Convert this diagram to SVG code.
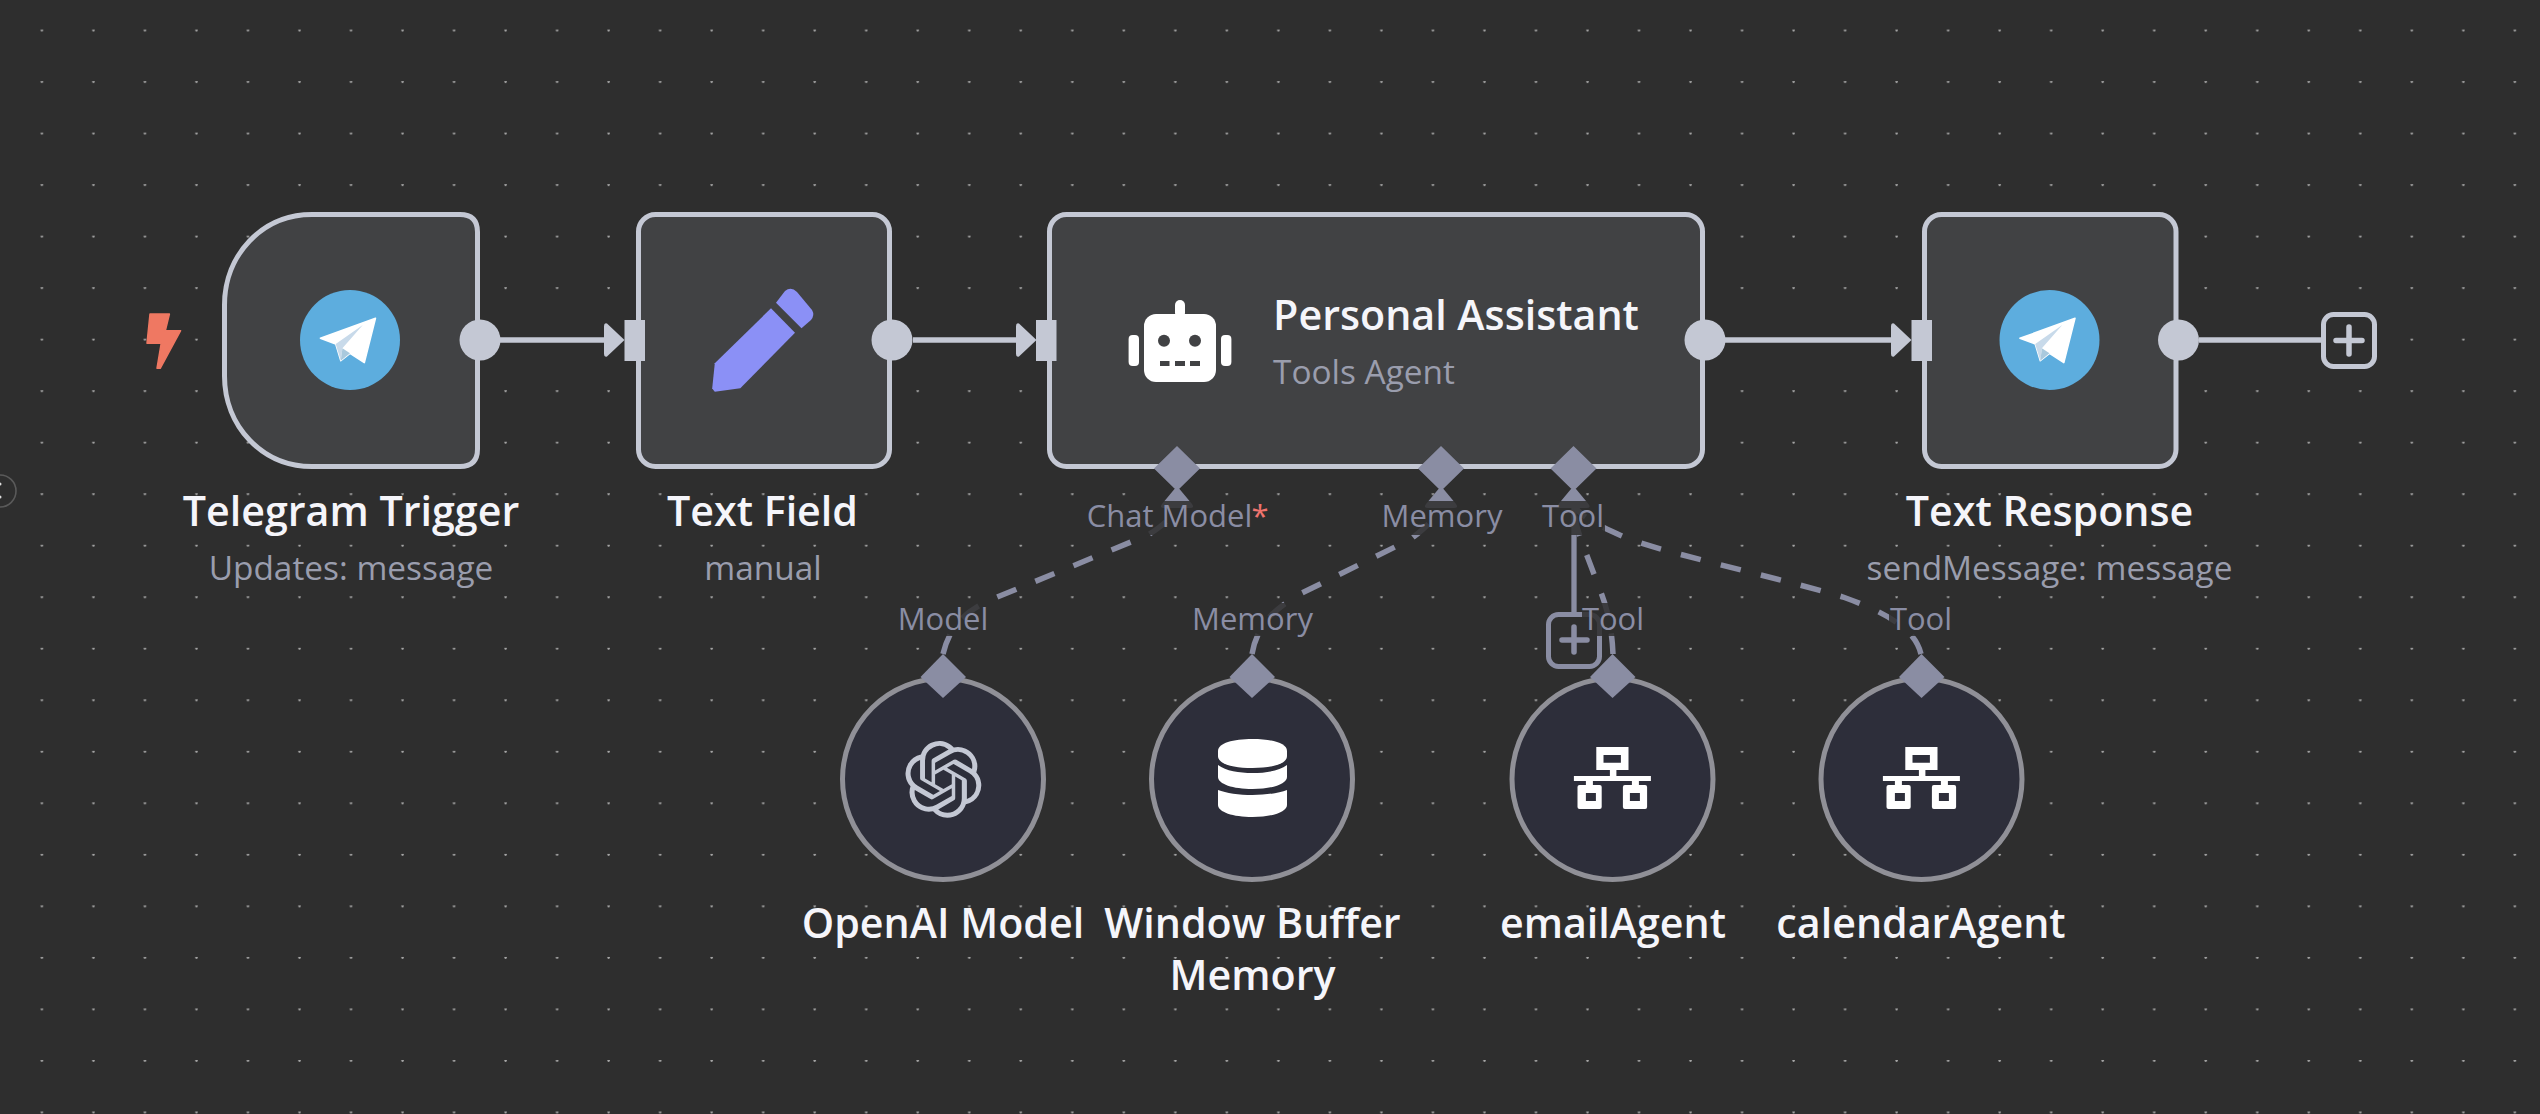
<svg xmlns="http://www.w3.org/2000/svg" xmlns:xlink="http://www.w3.org/1999/xlink" width="2540" height="1114" viewBox="0 0 2540 1114">
<style>
text{font-family:"Open Sans","Noto Sans","Liberation Sans",sans-serif;text-anchor:middle}
.title{font-size:41.200px;font-weight:600;fill:#f5f5fa}
.sub{font-size:33.400px;font-weight:400;fill:#9a9dad}
.lab{font-size:31px;font-weight:400;fill:#8a8da4}
.card{fill:#414244;stroke:#c4c8d4;stroke-width:5}
.sc{fill:#2d2e3a;stroke:#909097;stroke-width:5}
.main{fill:none;stroke:#c4c8d4;stroke-width:5.300}
.dash{fill:none;stroke:#8a8da3;stroke-width:5.500;stroke-dasharray:20.600 20.600}
.solid{fill:none;stroke:#8a8da3;stroke-width:5.300}
.port{fill:#c4c8d4}
.dia{fill:#8a8da3}
.lbg{fill:#2e2e2e;fill-opacity:.85}
</style>
<defs>
<pattern id="dots" x="41.300" y="29.600" width="51.520" height="51.520" patternUnits="userSpaceOnUse">
<circle cx="0.600" cy="0.600" r="1.300" fill="#a8a8a8"/>
<circle cx="52.120" cy="0.600" r="1.300" fill="#a8a8a8"/>
</pattern>
<g id="tg">
<circle r="50" fill="#5dadde"/>
<path d="M25.500-21.700-29.600-1.700-14.300 4-9.200 20.700 0 13.300 14.300 22.700Z" fill="#fff" stroke="#fff" stroke-width="1.500" stroke-linejoin="round"/>
<path d="M12.800-15-14.300 4-9.200 20.700-7.600 8.300Z" fill="#c8daea"/>
<path d="M-9.200 20.700 0 13.300-7.600 8.300Z" fill="#a9c9dd"/>
</g>
<path id="head" d="M0-16.500 17.500 0 0 16.500Q-3 17.500-3 14V-14Q-3-17.500 0-16.500Z" class="port"/>
<g id="net">
<path d="M-16.200 0H16V23H-16.200ZM-9 8V15.700H8.400V8Z" fill="#fff" fill-rule="evenodd"/>
<path d="M-2.600 22H3.900V30H-2.600ZM-38.600 29H38.400V34H-38.600ZM-26.600 33H-19.600V40H-26.600ZM19.400 33H26.400V40H19.400Z" fill="#fff"/>
<rect x="-35" y="38" width="24.200" height="24" rx="2" fill="#fff"/>
<rect x="10.400" y="38" width="24.200" height="24" rx="2" fill="#fff"/>
<rect x="-26.600" y="46" width="10" height="8" fill="#2d2e3a"/>
<rect x="17.400" y="46" width="10" height="8" fill="#2d2e3a"/>
</g>
</defs>
<rect width="2540" height="1114" fill="#2e2e2e"/>
<rect width="2540" height="1114" fill="url(#dots)"/>
<g id="canvas-control">
<circle cx="0" cy="491" r="16" fill="none" stroke="#5a5a5a" stroke-width="1.600"/>
<circle cx="0" cy="484" r="1.500" fill="#ddd"/>
<circle cx="0" cy="497" r="1.500" fill="#ddd"/>
</g>
<g id="connectors">
<path class="main" d="M500 340H606"/>
<use xlink:href="#head" x="607" y="340"/>
<path class="main" d="M913 340H1017"/>
<use xlink:href="#head" x="1019" y="340"/>
<path class="main" d="M1725 340H1892"/>
<use xlink:href="#head" x="1894" y="340"/>
<path class="main" d="M2199 340H2321"/>
<path class="dash" d="M943 654C950 625 965 612 990 600L1148 535C1162 526 1174 518 1177 500"/>
<path class="dash" d="M1252 654C1258 620 1280 606 1300 594L1411 539C1430 524 1438 516 1441 500"/>
<path class="solid" d="M1574 505V612"/>
<path class="dash" d="M1613 654C1612 630 1608 610 1600 590L1581 540C1578 530 1574 520 1574 505"/>
<path class="dash" d="M1921 654C1915 630 1890 614 1843 597C1780 578 1660 552 1624 537C1595 524 1580 516 1574 505"/>
</g>
<g id="add-right">
<rect x="2323.500" y="314.500" width="51" height="52" rx="10" fill="#2e2e2e" stroke="#c4c8d4" stroke-width="5"/>
<path d="M2336 340.500H2362M2349 327V354" stroke="#c4c8d4" stroke-width="5.500" stroke-linecap="round"/>
</g>
<g id="add-tool">
<rect x="1548.500" y="614.500" width="51" height="52" rx="10" fill="#2e2e2e" stroke="#8a8da3" stroke-width="5"/>
<path d="M1562 640H1587M1574 627V652" stroke="#8a8da3" stroke-width="5.500" stroke-linecap="round"/>
</g>
<g id="telegram-trigger">
<path class="card" d="M312 214.500H460Q477.500 214.500 477.500 232V449Q477.500 466.500 460 466.500H312C262 466.500 224.500 426 224.500 376V305C224.500 255 262 214.500 312 214.500Z"/>
<path d="M150 314H169.400L165.300 330.700H180.600L160.200 368.300H157L161.200 343.300H147Z" fill="#ef7862" stroke="#ef7862" stroke-width="1.500" stroke-linejoin="round"/>
<use xlink:href="#tg" x="350" y="340"/>
<circle class="port" cx="480" cy="340" r="20.500"/>
<text class="title" x="351" y="526">Telegram Trigger</text>
<text class="sub" x="351" y="580">Updates: message</text>
</g>
<g id="text-field">
<rect class="card" x="638.500" y="214.500" width="251" height="252" rx="17"/>
<rect class="port" x="624.500" y="320" width="20.500" height="41"/>
<path d="M771 308.300 795 332.700 740.300 388.300 714.800 391.700 712.200 388.500 714.800 363.300Z" fill="#8b90f6"/>
<path d="M776 302.700 785 291Q791 286 797 292L812 310Q815 315 811 320L801.500 328.300Z" fill="#8b90f6"/>
<circle class="port" cx="892" cy="340" r="20.500"/>
<text class="title" x="762.500" y="526">Text Field</text>
<text class="sub" x="763" y="580">manual</text>
</g>
<g id="personal-assistant">
<rect class="card" x="1049.500" y="214.500" width="653" height="252" rx="17"/>
<rect class="port" x="1036" y="320" width="20.500" height="41"/>
<g fill="#fff">
<rect x="1144" y="314" width="72" height="68" rx="12"/>
<rect x="1175" y="300" width="10" height="18" rx="5"/>
<rect x="1128.600" y="335" width="10.400" height="31" rx="4"/>
<rect x="1221" y="335" width="10.400" height="31" rx="4"/>
</g>
<g fill="#414244">
<circle cx="1164" cy="340.700" r="6"/>
<circle cx="1195" cy="340.700" r="6"/>
<rect x="1160" y="361" width="9.500" height="5"/>
<rect x="1175" y="361" width="10" height="5"/>
<rect x="1190" y="361" width="10" height="5"/>
</g>
<circle class="port" cx="1705" cy="340" r="20.500"/>
<text class="title" x="1456" y="330">Personal Assistant</text>
<text class="sub" x="1364" y="384">Tools Agent</text>
</g>
<g id="text-response">
<rect class="card" x="1924.500" y="214.500" width="251.500" height="252" rx="17"/>
<rect class="port" x="1911.500" y="320" width="20.500" height="41"/>
<use xlink:href="#tg" x="2049.500" y="340"/>
<circle class="port" cx="2178.500" cy="340" r="20.500"/>
<text class="title" x="2049.500" y="526">Text Response</text>
<text class="sub" x="2049.500" y="580">sendMessage: message</text>
</g>
<g id="agent-ports">
<path class="dia" d="M1177 446 1200 468.500 1177 491 1154 468.500ZM1177 486 1192 504Q1195 508 1190 508H1164Q1159 508 1162 504Z"/>
<path class="dia" d="M1441 446 1464 468.500 1441 491 1418 468.500ZM1441 486 1456 504Q1459 508 1454 508H1428Q1423 508 1426 504Z"/>
<path class="dia" d="M1573.500 446 1596.500 468.500 1573.500 491 1550.500 468.500ZM1573.500 486 1588.500 504Q1591.500 508 1586.500 508H1560.500Q1555.500 508 1558.500 504Z"/>
<rect class="lbg" x="1086" y="501" width="183" height="34"/>
<rect class="lbg" x="1380" y="501" width="123" height="34"/>
<rect class="lbg" x="1541" y="501" width="64" height="34"/>
<text class="lab" x="1169.500" y="527">Chat Model</text>
<text x="1260" y="527" font-size="31" fill="#f0746e">*</text>
<text class="lab" x="1442" y="527">Memory</text>
<text class="lab" x="1573" y="527">Tool</text>
</g>
<g id="openai-model">
<circle class="sc" cx="943" cy="779" r="100.500"/>
<rect class="lbg" x="897" y="603" width="92" height="33"/>
<text class="lab" x="943" y="630">Model</text>
<path class="dia" d="M943 654 966 677 943 698 920.500 677Z"/>
<path transform="translate(905 741) scale(3.200)" fill="#c4c8d4" d="M22.2819 9.8211a5.9847 5.9847 0 0 0-.5157-4.9108 6.0462 6.0462 0 0 0-6.5098-2.9A6.0651 6.0651 0 0 0 4.9807 4.1818a5.9847 5.9847 0 0 0-3.9977 2.9 6.0462 6.0462 0 0 0 .7427 7.0966 5.98 5.98 0 0 0 .511 4.9107 6.051 6.051 0 0 0 6.5146 2.9001A5.9847 5.9847 0 0 0 13.2599 24a6.0557 6.0557 0 0 0 5.7718-4.2058 5.9894 5.9894 0 0 0 3.9977-2.9001 6.0557 6.0557 0 0 0-.7475-7.0729zm-9.022 12.6081a4.4755 4.4755 0 0 1-2.8764-1.0408l.1419-.0804 4.7783-2.7582a.7948.7948 0 0 0 .3927-.6813v-6.7369l2.02 1.1686a.071.071 0 0 1 .038.052v5.5826a4.504 4.504 0 0 1-4.4945 4.4944zm-9.6607-4.1254a4.4708 4.4708 0 0 1-.5346-3.0137l.142.0852 4.783 2.7582a.7712.7712 0 0 0 .7806 0l5.8428-3.3685v2.3324a.0804.0804 0 0 1-.0332.0615L9.74 19.9502a4.4992 4.4992 0 0 1-6.1408-1.6464zM2.3408 7.8956a4.485 4.485 0 0 1 2.3655-1.9728V11.6a.7664.7664 0 0 0 .3879.6765l5.8144 3.3543-2.0201 1.1685a.0757.0757 0 0 1-.071 0l-4.8303-2.7865A4.504 4.504 0 0 1 2.3408 7.872zm16.5963 3.8558L13.1038 8.364 15.1192 7.2a.0757.0757 0 0 1 .071 0l4.8303 2.7913a4.4944 4.4944 0 0 1-.6765 8.1042v-5.6772a.79.79 0 0 0-.407-.667zm2.0107-3.0231l-.142-.0852-4.7735-2.7818a.7759.7759 0 0 0-.7854 0L9.409 9.2297V6.8974a.0662.0662 0 0 1 .0284-.0615l4.8303-2.7866a4.4992 4.4992 0 0 1 6.6802 4.66zM8.3065 12.863l-2.02-1.1638a.0804.0804 0 0 1-.038-.0567V6.0742a4.4992 4.4992 0 0 1 7.3757-3.4537l-.142.0805L8.704 5.459a.7948.7948 0 0 0-.3927.6813zm1.0976-2.3654l2.602-1.4998 2.6069 1.4998v2.9994l-2.5974 1.4997-2.6067-1.4997Z"/>
<text class="title" x="943" y="938">OpenAI Model</text>
</g>
<g id="window-buffer-memory">
<circle class="sc" cx="1252" cy="779" r="100.500"/>
<rect class="lbg" x="1192" y="603" width="121" height="33"/>
<text class="lab" x="1252.500" y="630">Memory</text>
<path class="dia" d="M1252 654 1275 677 1252 698 1229.500 677Z"/>
<g fill="#fff">
<path d="M1218 751C1218 743 1233 739 1252.500 739S1287 743 1287 751V756C1287 764 1272 768 1252.500 768S1218 764 1218 756Z"/>
<path d="M1218 765C1226 771 1239 773 1252.500 773S1279 771 1287 765V777C1287 784 1272 789 1252.500 789S1218 784 1218 777Z"/>
<path d="M1218 790C1226 793 1239 795 1252.500 795S1279 793 1287 790V805C1287 812 1272 817 1252.500 817S1218 812 1218 805Z"/>
</g>
<text class="title" x="1252.500" y="938">Window Buffer</text>
<text class="title" x="1252.500" y="990">Memory</text>
</g>
<g id="email-agent">
<circle class="sc" cx="1612.500" cy="779" r="100.500"/>
<rect class="lbg" x="1582" y="603" width="62" height="33"/>
<text class="lab" x="1613" y="630">Tool</text>
<path class="dia" d="M1612.500 654 1635.500 677 1612.500 698 1590 677Z"/>
<use xlink:href="#net" x="1612.500" y="747"/>
<text class="title" x="1613" y="938">emailAgent</text>
</g>
<g id="calendar-agent">
<circle class="sc" cx="1921.500" cy="779" r="100.500"/>
<rect class="lbg" x="1889" y="603" width="64" height="33"/>
<text class="lab" x="1921" y="630">Tool</text>
<path class="dia" d="M1921.500 654 1944.500 677 1921.500 698 1899 677Z"/>
<use xlink:href="#net" x="1921.500" y="747"/>
<text class="title" x="1921" y="938">calendarAgent</text>
</g>
</svg>
